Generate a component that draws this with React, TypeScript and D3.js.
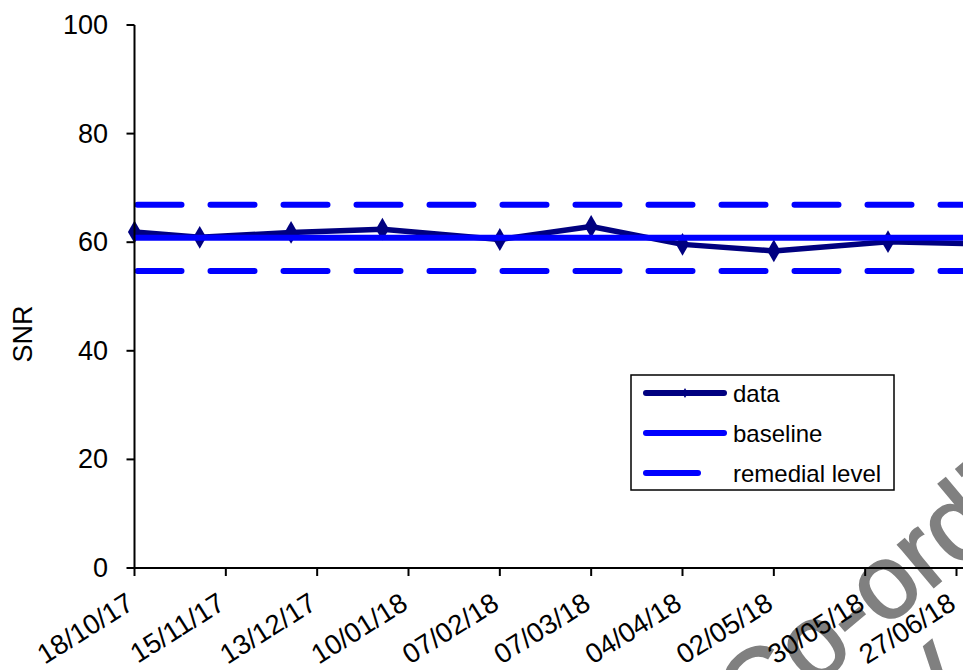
import React from "react";
import * as d3 from "d3";

const dates = ["18/10/17","07/11/17","05/12/17","02/01/18","07/02/18","07/03/18","04/04/18","02/05/18","06/06/18","04/07/18"];
const snrValues = [61.9, 60.9, 61.8, 62.4, 60.5, 62.9, 59.6, 58.4, 60.1, 59.7];
const baselineValue = 60.8;
const remedialUpper = 66.9;
const remedialLower = 54.7;
const tickDates = ["18/10/17","15/11/17","13/12/17","10/01/18","07/02/18","07/03/18","04/04/18","02/05/18","30/05/18","27/06/18"];
const yTicks = [0, 20, 40, 60, 80, 100];
const legendLabels = ["data", "baseline", "remedial level"];
const watermarkText = "Co-ordinating";

const parse = d3.timeParse("%d/%m/%y");
const fmt = d3.timeFormat("%d/%m/%y");

const W = 963, H = 670;
const FONT = "'Liberation Sans', Arial, sans-serif";
const NAVY = "#000080";
const BLUE = "#0000FF";

export default function App() {
  const x = d3.scaleTime()
    .domain([parse("18/10/17")!, parse("27/06/18")!])
    .range([134.5, 956.5]);
  const y = d3.scaleLinear().domain([0, 100]).range([568, 25]);
  const xLeft = 134.5;
  const xRight = 1020;

  const pts = dates.map((d, i) => ({ t: parse(d)!, v: snrValues[i] }));
  const line = d3.line<{ t: Date; v: number }>().x(p => x(p.t)).y(p => y(p.v));
  const diamond = d3.symbol().type(d3.symbolDiamond).size(150)();

  const lx0 = 646, lx1 = 724, lt = 733;
  const legendY = [393, 433, 473];

  return (
    <svg width={W} height={H} style={{ position: "absolute", left: 0, top: 0, background: "#fff" }} fontFamily={FONT}>
      <rect x={0} y={0} width={W} height={H} fill="#fff" />
      {/* watermark */}
      <text x={0} y={0} transform="translate(754,738) rotate(-40)" fontSize={105} fill="#808080" stroke="#808080" strokeWidth={2}>{watermarkText}</text>
      <text x={0} y={0} transform="translate(925,740) rotate(-40)" fontSize={105} fill="#808080" stroke="#808080" strokeWidth={2}>V</text>

      {/* data line */}
      <path d={line(pts) || ""} fill="none" stroke={NAVY} strokeWidth={5.5} strokeLinejoin="round" />
      {pts.map((p, i) => (
        <path key={i} d={diamond || ""} transform={`translate(${x(p.t)},${y(p.v)})`} fill={NAVY} />
      ))}
      {/* baseline */}
      <line x1={xLeft} x2={xRight} y1={y(baselineValue)} y2={y(baselineValue)} stroke={BLUE} strokeWidth={6} />
      {/* remedial levels */}
      {[remedialUpper, remedialLower].map((v, i) => (
        <line key={i} x1={xLeft + 3} x2={xRight} y1={y(v)} y2={y(v)} stroke={BLUE} strokeWidth={6}
          strokeDasharray="44 29" strokeLinecap="round" />
      ))}

      {/* y axis */}
      <line x1={xLeft} x2={xLeft} y1={y(100)} y2={y(0)} stroke="#000" strokeWidth={2} />
      {yTicks.map(t => (
        <g key={t}>
          <line x1={xLeft - 8} x2={xLeft} y1={y(t)} y2={y(t)} stroke="#000" strokeWidth={2} />
          <text x={108} y={y(t)} textAnchor="end" dominantBaseline="central" fontSize={27}>{t}</text>
        </g>
      ))}
      <text transform={`translate(32,334) rotate(-90)`} textAnchor="middle" fontSize={27}>SNR</text>

      {/* x axis */}
      <line x1={xLeft} x2={xRight} y1={y(0)} y2={y(0)} stroke="#000" strokeWidth={2} />
      {tickDates.map(s => {
        const t = parse(s)!;
        const px = x(t);
        return (
          <g key={s}>
            <line x1={px} x2={px} y1={y(0)} y2={y(0) + 8} stroke="#000" strokeWidth={2} />
            <text transform={`translate(${px + 1},${y(0) + 40}) rotate(-32)`} textAnchor="end" fontSize={27.5}>{fmt(t)}</text>
          </g>
        );
      })}

      {/* legend */}
      <rect x={631} y={375} width={263} height={115} fill="#fff" stroke="#000" strokeWidth={1.5} />
      <line x1={lx0} x2={lx1} y1={legendY[0]} y2={legendY[0]} stroke={NAVY} strokeWidth={6} strokeLinecap="round" />
      <path d={d3.symbol().type(d3.symbolDiamond).size(30)() || ""} transform={`translate(${(lx0 + lx1) / 2},${legendY[0]})`} fill={NAVY} />
      <line x1={lx0} x2={lx1} y1={legendY[1]} y2={legendY[1]} stroke={BLUE} strokeWidth={6} strokeLinecap="round" />
      <line x1={lx0} x2={698} y1={legendY[2]} y2={legendY[2]} stroke={BLUE} strokeWidth={6} strokeLinecap="round" />
      {legendLabels.map((l, i) => (
        <text key={l} x={lt} y={legendY[i]} dominantBaseline="central" fontSize={24}>{l}</text>
      ))}
    </svg>
  );
}
